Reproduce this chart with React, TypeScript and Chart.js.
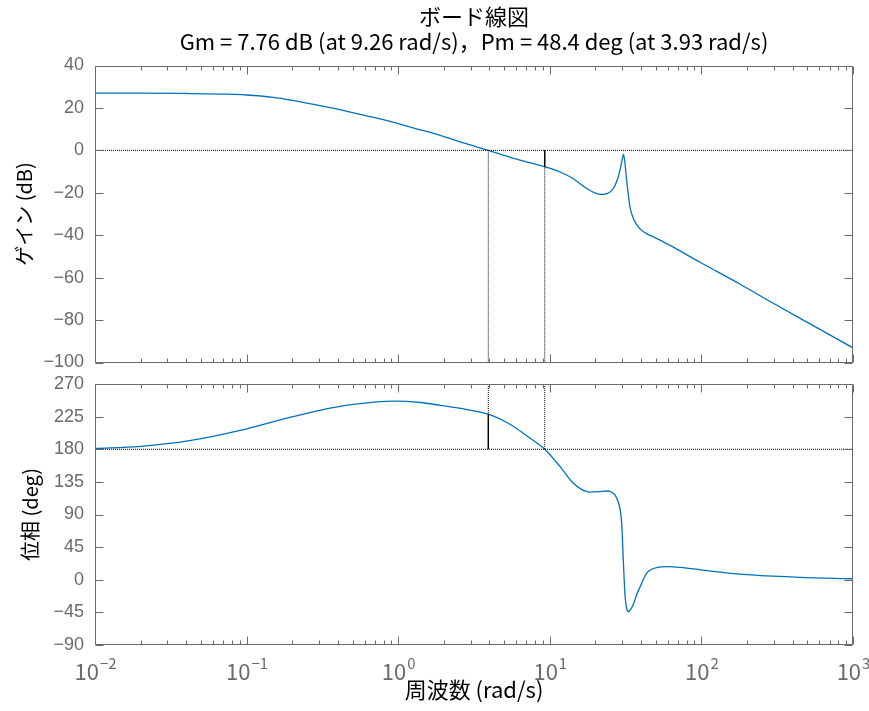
import { useEffect, useRef } from "react";
import { Chart, registerables } from "chart.js";

Chart.register(...registerables);

// ---------------- data ----------------
const magFreq = [0.01, 0.02, 0.04, 0.07, 0.1, 0.15, 0.2, 0.3, 0.41, 0.6, 0.88, 1.3, 1.89, 2.7, 3.93, 5.46, 7.0, 9.26, 11.7, 14.3, 17.5, 20.0, 22.0, 24.0, 26.2, 28.0, 29.0, 30.0, 30.6, 31.2, 31.8, 32.7, 33.8, 36.0, 39.4, 44.0, 48.2, 55.0, 62.1, 100, 180, 300, 500, 1000];
const magDb = [27.0, 27.0, 26.8, 26.5, 26.1, 25.0, 23.6, 21.2, 19.2, 16.5, 13.7, 10.3, 7.1, 3.5, 0, -3.2, -5.4, -7.76, -10.2, -13.4, -18.0, -20.2, -20.8, -20.3, -18.1, -13.5, -9.4, -4.5, -1.9, -5.0, -11.0, -19.0, -26.7, -33.0, -37.0, -39.5, -40.8, -42.8, -44.8, -53.1, -63.1, -72.2, -81.1, -93.1];

const phaseFreq = [0.01, 0.02, 0.042, 0.0906, 0.193, 0.413, 0.7, 0.95, 1.4, 1.89, 2.8, 3.93, 5.46, 7.0, 9.26, 11.7, 14.3, 16.2, 18.3, 21.0, 23.6, 25.5, 26.9, 28.2, 29.0, 29.8, 30.6, 31.4, 32.2, 33.1, 34.4, 35.8, 37.5, 39.4, 41.5, 43.5, 47.0, 51.5, 59.0, 72.3, 109, 198, 445, 1000];
const phaseDeg = [181, 184, 191.8, 206, 224, 239.2, 245, 246.5, 244.5, 240.6, 235, 228.4, 214.5, 199, 180, 156, 133, 124.7, 121, 121.5, 122.4, 121, 117, 108, 98.5, 77.9, 22.7, -23.4, -40, -44, -40, -32.5, -20, -10, 1, 9, 14.5, 17.2, 18, 17.2, 12.5, 7, 3.4, 1.4];

const gmDb = 7.76;
const gmFreq = 9.26;
const pmDeg = 48.4;
const pmFreq = 3.93;
const freqMin = 0.01;
const freqMax = 1000;
const magMin = -100;
const magMax = 40;
const phaseMin = -90;
const phaseMax = 270;
const phaseCross = 180;

const freqTickExps = [-2, -1, 0, 1, 2, 3];
const minorMultipliers = [2, 3, 4, 5, 6, 7, 8, 9];

const titleLines = ["ボード線図", "Gm = 7.76 dB (at 9.26 rad/s)，Pm = 48.4 deg (at 3.93 rad/s)"];
const magLabel = "ゲイン (dB)";
const phaseLabel = "位相 (deg)";
const freqLabel = "周波数 (rad/s)";

// ---------------- styles ----------------
const AXIS = "#6a6a6a";
const LINE = "#0072BD";
const TICK_FONT = "'Liberation Sans', Arial, sans-serif";
const CJK_FONT = "'Noto Sans CJK JP', sans-serif";

const pts = (xs: number[], ys: number[]) => xs.map((x, i) => ({ x, y: ys[i] }));

const framePlugin = {
  id: "frame",
  afterDraw(chart: any, _args: any, opts: any) {
    const { ctx, chartArea: a, scales } = chart;
    const xs = scales.x;
    const ys = scales.y;
    const L = Math.round(a.left) + 0.5;
    const R = Math.round(a.right) - 0.5;
    const T = Math.round(a.top) + 0.5;
    const B = Math.round(a.bottom) - 0.5;
    ctx.save();
    ctx.strokeStyle = AXIS;
    ctx.lineWidth = 1;
    ctx.beginPath();
    ctx.rect(L, T, R - L, B - T);
    for (const t of ys.ticks) {
      const y = Math.round(ys.getPixelForValue(t.value)) + 0.5;
      ctx.moveTo(L, y);
      ctx.lineTo(L + 8, y);
      ctx.moveTo(R, y);
      ctx.lineTo(R - 8, y);
    }
    for (const e of freqTickExps) {
      const base = Math.pow(10, e);
      const x = Math.round(xs.getPixelForValue(base)) + 0.5;
      ctx.moveTo(x, T);
      ctx.lineTo(x, T + 8);
      ctx.moveTo(x, B);
      ctx.lineTo(x, B - 8);
      for (const m of minorMultipliers) {
        const v = base * m;
        if (v > freqMax) continue;
        const xm = Math.round(xs.getPixelForValue(v)) + 0.5;
        ctx.moveTo(xm, T);
        ctx.lineTo(xm, T + 4);
        ctx.moveTo(xm, B);
        ctx.lineTo(xm, B - 4);
      }
    }
    ctx.stroke();

    const cx = (a.left + a.right) / 2;
    if (opts && opts.title) {
      ctx.fillStyle = "#000";
      ctx.textAlign = "center";
      ctx.textBaseline = "middle";
      ctx.font = `22px ${CJK_FONT}`;
      ctx.fillText(titleLines[0], cx, 17);
      ctx.fillText(titleLines[1], cx, 42);
    }

    if (opts && opts.xLabels) {
      ctx.fillStyle = AXIS;
      ctx.textBaseline = "alphabetic";
      ctx.textAlign = "left";
      for (const e of freqTickExps) {
        const x = xs.getPixelForValue(Math.pow(10, e));
        const base = "10";
        const exp = String(e).replace("-", "−");
        ctx.font = `22px ${CJK_FONT}`;
        const wb = ctx.measureText(base).width;
        ctx.font = `15px ${CJK_FONT}`;
        const we = ctx.measureText(exp).width;
        const x0 = x - (wb + we) / 2;
        ctx.font = `22px ${CJK_FONT}`;
        ctx.fillText(base, x0, a.bottom + 35);
        ctx.font = `15px ${CJK_FONT}`;
        ctx.fillText(exp, x0 + wb + 1, a.bottom + 24);
      }
    }
    ctx.restore();
  },
};

const dotted = (data: { x: number; y: number }[]) => ({
  data,
  borderColor: "#000",
  borderWidth: 1,
  borderDash: [1, 1],
  pointRadius: 0,
  showLine: true,
  tension: 0,
});
const solid = (data: { x: number; y: number }[]) => ({
  data,
  borderColor: "#000",
  borderWidth: 1.4,
  pointRadius: 0,
  showLine: true,
  tension: 0,
});

export default function App() {
  const topRef = useRef<HTMLCanvasElement>(null);
  const botRef = useRef<HTMLCanvasElement>(null);

  useEffect(() => {
    const xScale = (display: boolean) => ({
      type: "logarithmic" as const,
      min: freqMin,
      max: freqMax,
      display,
      grid: { display: false, drawTicks: false },
      border: { display: false },
      ticks: { display: false },
      title: {
        display,
        text: freqLabel,
        color: "#000",
        font: { family: CJK_FONT, size: 22, lineHeight: 1.2 },
        padding: { top: 0, bottom: 8 },
      },
      afterFit: (s: any) => {
        s.height = display ? 66 : 0;
        s.paddingLeft = 0;
        s.paddingRight = 0;
      },
    });
    const yScale = (min: number, max: number, step: number, label: string, titlePad: number) => ({
      type: "linear" as const,
      min,
      max,
      grid: { display: false, drawTicks: false },
      border: { display: false },
      ticks: {
        stepSize: step,
        padding: 11,
        color: AXIS,
        font: { family: TICK_FONT, size: 18 },
        callback: (v: any) => String(v).replace("-", "−"),
      },
      title: {
        display: true,
        text: label,
        color: "#000",
        font: { family: CJK_FONT, size: 20, lineHeight: 1.2 },
        padding: { top: titlePad, bottom: 0 },
      },
      afterFit: (s: any) => {
        s.width = 95;
        s.paddingTop = 0;
        s.paddingBottom = 0;
      },
    });

    const top = new Chart(topRef.current!, {
      type: "scatter",
      data: {
        datasets: [
          solid([{ x: gmFreq, y: 0 }, { x: gmFreq, y: -gmDb }]),
          dotted([{ x: freqMin, y: 0 }, { x: freqMax, y: 0 }]),
          dotted([{ x: pmFreq, y: 0 }, { x: pmFreq, y: magMin }]),
          dotted([{ x: gmFreq, y: 0 }, { x: gmFreq, y: magMin }]),
          {
            data: pts(magFreq, magDb),
            borderColor: LINE,
            borderWidth: 1.3,
            pointRadius: 0,
            showLine: true,
            cubicInterpolationMode: "monotone",
          } as any,
        ],
      },
      options: {
        animation: false,
        responsive: false,
        devicePixelRatio: 1,
        layout: { padding: { left: 0, right: 16, top: 65.5, bottom: 9.5 } },
        plugins: {
          legend: { display: false },
          tooltip: { enabled: false },
          title: { display: false },
          frame: { title: true },
        } as any,
        scales: {
          x: xScale(false) as any,
          y: yScale(magMin, magMax, 20, magLabel, 12) as any,
        },
      },
      plugins: [framePlugin],
    });

    const bot = new Chart(botRef.current!, {
      type: "scatter",
      data: {
        datasets: [
          solid([{ x: pmFreq, y: phaseCross }, { x: pmFreq, y: phaseCross + pmDeg }]),
          dotted([{ x: freqMin, y: phaseCross }, { x: freqMax, y: phaseCross }]),
          dotted([{ x: pmFreq, y: phaseMax }, { x: pmFreq, y: phaseCross }]),
          dotted([{ x: gmFreq, y: phaseMax }, { x: gmFreq, y: phaseCross }]),
          {
            data: pts(phaseFreq, phaseDeg),
            borderColor: LINE,
            borderWidth: 1.3,
            pointRadius: 0,
            showLine: true,
            cubicInterpolationMode: "monotone",
          } as any,
        ],
      },
      options: {
        animation: false,
        responsive: false,
        devicePixelRatio: 1,
        layout: { padding: { left: 0, right: 16, top: 12, bottom: 0 } },
        plugins: {
          legend: { display: false },
          tooltip: { enabled: false },
          title: { display: false },
          frame: { xLabels: true },
        } as any,
        scales: {
          x: xScale(true) as any,
          y: yScale(phaseMin, phaseMax, 45, phaseLabel, 18) as any,
        },
      },
      plugins: [framePlugin],
    });

    return () => {
      top.destroy();
      bot.destroy();
    };
  }, []);

  return (
    <div style={{ position: "absolute", left: 0, top: 0, width: 869, height: 711, background: "#fff" }}>
      <canvas ref={topRef} width={869} height={372} style={{ position: "absolute", left: 0, top: 0 }} />
      <canvas ref={botRef} width={869} height={339} style={{ position: "absolute", left: 0, top: 372 }} />
    </div>
  );
}
